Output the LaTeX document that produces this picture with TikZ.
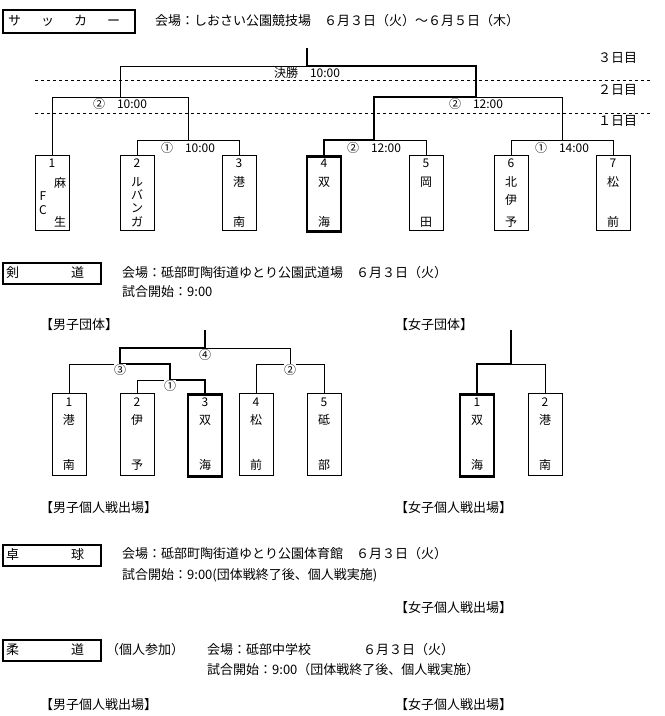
\documentclass[tikz,border=0pt]{standalone}
\usepackage{fontspec}
\setmainfont{Noto Sans CJK JP}
\begin{document}
\begin{tikzpicture}[x=1pt,y=-1pt,
  thinl/.style={line width=0.9pt},
  thickl/.style={line width=2.8pt},
  team/.style={draw,line width=0.9pt,minimum width=34pt,inner sep=0pt},
  wteam/.style={team,line width=2.8pt},
  ch/.style={font=\fontsize{12}{12}\selectfont,inner sep=0pt},
  lbl/.style={font=\fontsize{12}{12}\selectfont,inner sep=0pt,fill=white,inner xsep=2pt},
  txt/.style={font=\fontsize{13}{13}\selectfont,inner sep=0pt,anchor=west},
  titlebox/.style={draw,line width=1.8pt,inner sep=0pt}]
\useasboundingbox (0,0) rectangle (665,716);
\fill[white] (0,0) rectangle (665,716);
% ===== Soccer =====
\draw[titlebox] (3,10) rectangle (135,33);
\node[txt] (st) at (8,21) {サ\hspace{20pt}ッ\hspace{20pt}カ\hspace{20pt}ー};
\node[txt] (sv) at (155,21) {会場：しおさい公園競技場　６月３日（火）～６月５日（木）};
\draw[dashed,thinl] (35,80) -- (650,80);
\draw[dashed,thinl] (35,113) -- (650,113);
\node[txt] (d3) at (598,58) {３日目};
\node[txt] (d2) at (598,90) {２日目};
\node[txt] (d1) at (598,121) {１日目};
\foreach \i/\x/\w in {1/52/team,2/137/team,3/239/team,4/324/wteam,5/426/team,6/511/team,7/613/team}{
  \node[\w,minimum height=75pt,anchor=north] (s\i) at (\x,155) {};
  \node[ch] (s\i n) at (\x,163) {\i};
}
\node[ch] at (60,183) {麻}; \node[ch] at (43,196) {F}; \node[ch] at (43,210) {C}; \node[ch] at (60,222) {生};
\node[ch] at (137,182) {ル}; \node[ch] at (137,195) {バ}; \node[ch] at (137,208) {ン}; \node[ch] at (137,222) {ガ};
\node[ch] at (239,182) {港}; \node[ch] at (239,222) {南};
\node[ch] at (324,182) {双}; \node[ch] at (324,222) {海};
\node[ch] at (426,182) {岡}; \node[ch] at (426,222) {田};
\node[ch] at (511,182) {北}; \node[ch] at (511,200) {伊}; \node[ch] at (511,222) {予};
\node[ch] at (613,182) {松}; \node[ch] at (613,222) {前};
% brackets
\draw[thinl] (s1.north) -- (52,97) -- (188,97);
\draw[thinl] (188,97) -- (188,140);
\draw[thinl] (s2.north) -- (137,140) -- (239,140) -- (s3.north);
\draw[thinl] (s5.north) -- (426,140) -- (374,140);
\draw[thinl] (476,97) -- (562,97) -- (562,140);
\draw[thinl] (s6.north) -- (511,140) -- (613,140) -- (s7.north);
\draw[thinl] (120,97) -- (120,66) -- (307,66);
\draw[thickl] (s4.north) -- (324,140) -- (374,140) -- (374,97) -- (476,97) -- (476,66) -- (307,66) -- (307,48);
\node[lbl] (f1) at (307,73) {決勝　10:00};
\node[lbl] (f2) at (120,104) {②　10:00};
\node[lbl] (f3) at (476,104) {②　12:00};
\node[lbl] (f4) at (188,148) {①　10:00};
\node[lbl] (f5) at (374,148) {②　12:00};
\node[lbl] (f6) at (562,148) {①　14:00};
% ===== Kendo =====
\draw[titlebox] (3,263) rectangle (101,284);
\node[txt] at (6,273) {剣\hspace{52pt}道};
\node[txt] at (122,273) {会場：砥部町陶街道ゆとり公園武道場　６月３日（火）};
\node[txt] at (122,292) {試合開始：9:00};
\node[txt] at (40,325) {【男子団体】};
\node[txt] at (395,325) {【女子団体】};
\foreach \i/\x/\w/\a/\b in {1/69/team/港/南,2/137/team/伊/予,3/205/wteam/双/海,4/256/team/松/前,5/324/team/砥/部}{
  \node[\w,minimum height=82pt,anchor=north] (k\i) at (\x,393) {};
  \node[ch] at (\x,402) {\i}; \node[ch] at (\x,420) {\a}; \node[ch] at (\x,465) {\b};
}
\draw[thinl] (k1.north) -- (69,364) -- (120,364);
\draw[thinl] (k2.north) -- (137,380) -- (170,380);
\draw[thinl] (205,348) -- (290,348) -- (290,364);
\draw[thinl] (k4.north) -- (256,364) -- (324,364) -- (k5.north);
\draw[thickl] (k3.north) -- (205,380) -- (170,380) -- (170,364) -- (120,364) -- (120,348) -- (205,348) -- (205,330);
\node[lbl,inner xsep=0pt] at (205,355) {④};
\node[lbl,inner xsep=0pt] at (120,370) {③};
\node[lbl,inner xsep=0pt] at (170,386) {①};
\node[lbl,inner xsep=0pt] at (290,370) {②};
\foreach \i/\x/\w/\a/\b in {1/477/wteam/双/海,2/545/team/港/南}{
  \node[\w,minimum height=82pt,anchor=north] (g\i) at (\x,393) {};
  \node[ch] at (\x,402) {\i}; \node[ch] at (\x,420) {\a}; \node[ch] at (\x,465) {\b};
}
\draw[thinl] (511,364) -- (545,364) -- (g2.north);
\draw[thickl] (g1.north) -- (477,364) -- (511,364) -- (511,330);
\node[txt] at (40,508) {【男子個人戦出場】};
\node[txt] at (395,508) {【女子個人戦出場】};
% ===== Table tennis =====
\draw[titlebox] (3,545) rectangle (101,566);
\node[txt] at (6,555) {卓\hspace{52pt}球};
\node[txt] at (122,554) {会場：砥部町陶街道ゆとり公園体育館　６月３日（火）};
\node[txt] at (122,575) {試合開始：9:00(団体戦終了後、個人戦実施)};
\node[txt] at (395,608) {【女子個人戦出場】};
% ===== Judo =====
\draw[titlebox] (3,640) rectangle (101,661);
\node[txt] at (6,650) {柔\hspace{52pt}道};
\node[txt] at (106,650) {（個人参加）};
\node[txt] at (207,650) {会場：砥部中学校　　　　６月３日（火）};
\node[txt] at (207,670) {試合開始：9:00（団体戦終了後、個人戦実施）};
\node[txt] at (40,705) {【男子個人戦出場】};
\node[txt] at (395,705) {【女子個人戦出場】};
\end{tikzpicture}
\end{document}
